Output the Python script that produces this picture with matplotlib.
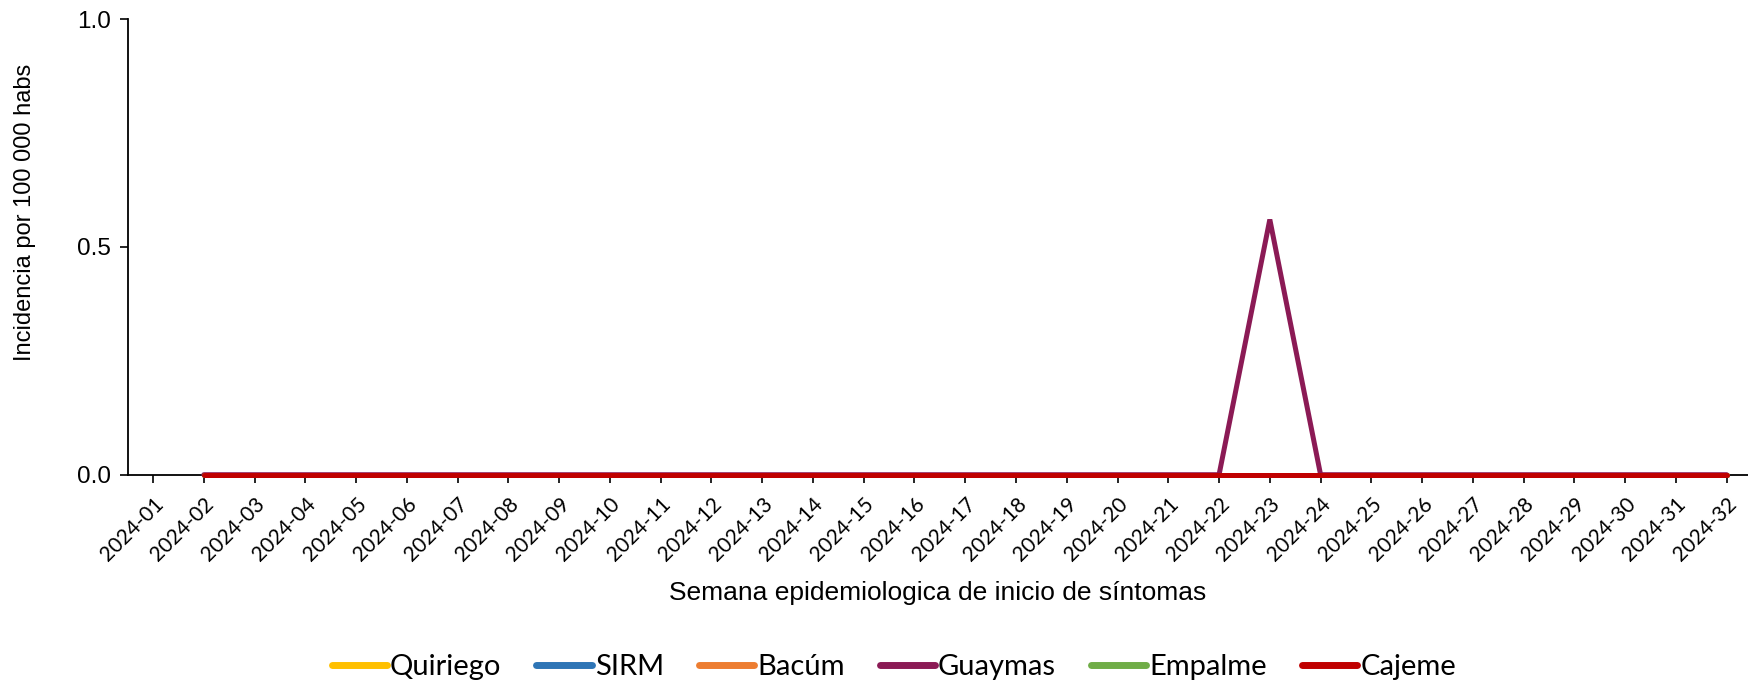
import matplotlib
matplotlib.use("Agg")
import matplotlib.pyplot as plt
import numpy as np

# weeks 2024-01 .. 2024-32
weeks = ["2024-%02d" % w for w in range(1, 33)]

# incidence per 100 000 inhabitants, week 1 has no data
quiriego = [np.nan] + [0.0] * 31
sirm = [np.nan] + [0.0] * 31
bacum = [np.nan] + [0.0] * 31
guaymas = [np.nan] + [0.0] * 21 + [0.56] + [0.0] * 9
empalme = [np.nan] + [0.0] * 31
cajeme = [np.nan] + [0.0] * 31

series_names = ["Quiriego", "SIRM", "Bacúm", "Guaymas", "Empalme", "Cajeme"]
series_values = [quiriego, sirm, bacum, guaymas, empalme, cajeme]
series_colors = ["#FFC000", "#2E75B6", "#ED7D31", "#8B1A55", "#70AD47", "#C00000"]

fig = plt.figure(figsize=(17.49, 6.85), dpi=100)
ax = fig.add_axes([127.7 / 1749, 1 - 474.7 / 685, 1 - 127.7 / 1749, (474.7 - 19) / 685])

x = np.arange(len(weeks))
for name, vals, col in zip(series_names, series_values, series_colors):
    ax.plot(x, vals, color=col, lw=3.6, label=name, solid_capstyle="round",
            solid_joinstyle="miter", clip_on=False, zorder=3)

ax.set_xlim(-0.5, 31.44)
ax.set_ylim(0, 1.0)
ax.set_yticks([0, 0.5, 1.0])
ax.set_yticklabels(["0.0", "0.5", "1.0"], fontsize=17.5, family="Liberation Sans")
ax.set_xticks(x)
ax.set_xticklabels(weeks, rotation=45, ha="right", va="top", rotation_mode="anchor",
                   fontsize=15, family="Lato")
ax.tick_params(axis="both", direction="out", length=6, width=1.2, color="black")
ax.tick_params(axis="x", pad=8)
ax.tick_params(axis="y", pad=6)

for s in ["top", "right"]:
    ax.spines[s].set_visible(False)
ax.spines["left"].set_linewidth(1.3)
ax.spines["bottom"].set_linewidth(1.3)

fig.text(25 / 1749, 1 - 212 / 685, "Incidencia por 100 000 habs", fontsize=17,
         family="Liberation Sans", rotation=90, ha="center", va="center")
fig.text(938 / 1749, 1 - 593 / 685, "Semana epidemiologica de inicio de síntomas",
         fontsize=19, family="Liberation Sans", ha="center", va="center")

fig.legend(loc="center", bbox_to_anchor=(0.511, 1 - 667 / 685), ncol=6, frameon=False,
           prop={"family": "Lato", "size": 21}, handlelength=1.9, handletextpad=0.1,
           columnspacing=1.2)
for line in fig.legends[0].get_lines():
    line.set_linewidth(5)

fig.savefig("out.png", dpi=100)
